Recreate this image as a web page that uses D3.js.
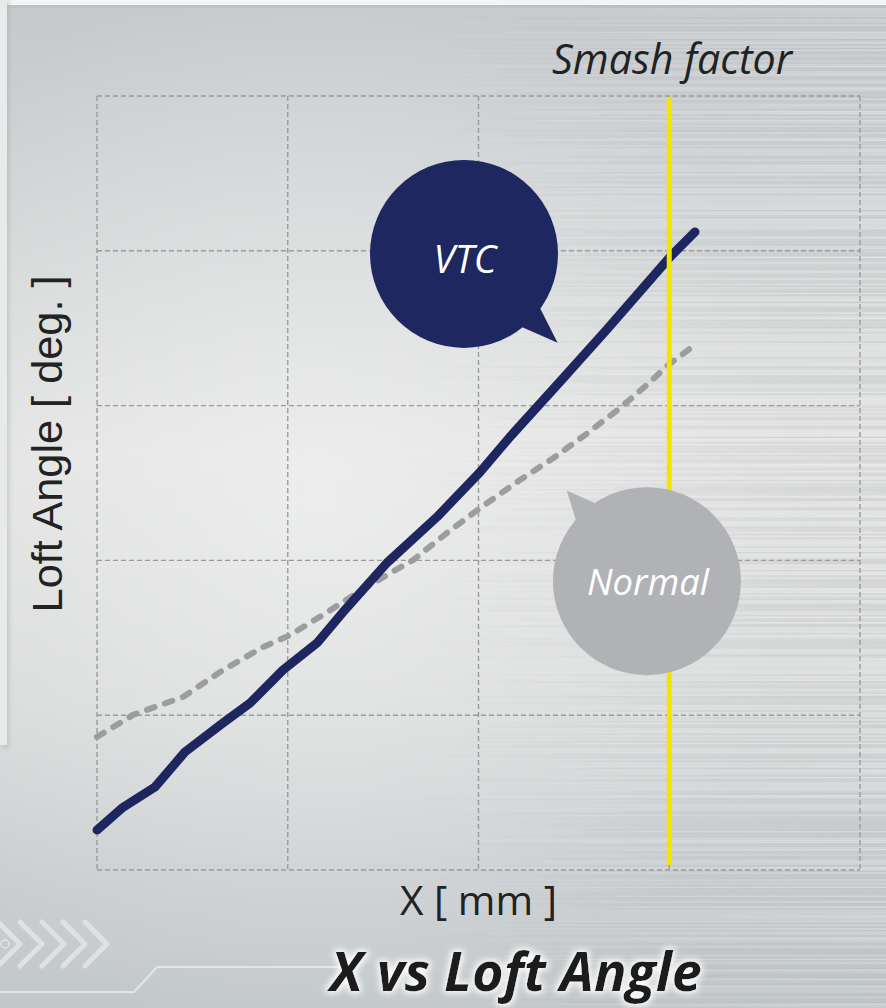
<!DOCTYPE html>
<html><head><meta charset="utf-8">
<script src="https://cdn.jsdelivr.net/npm/d3@7"></script>
<style>html,body{margin:0;padding:0;background:#c8ccce;} svg{display:block}</style>
</head><body><svg id="c" width="886" height="1008"></svg>
<script>
// ---------- data ----------
const xGridTicks = [0, 10, 20, 30, 40];          // X [ mm ] grid positions (no labels shown)
const yGridTicks = [0, 5, 10, 15, 20, 25];       // Loft angle grid positions (no labels shown)
const vtcX = [0, 1.31, 3.04, 4.61, 6.61, 8.02, 9.75, 11.53, 12.90, 15.20, 17.82, 20.08, 21.65, 24.43, 26.74, 30.04, 31.35];
const vtcY = [1.29, 2.00, 2.68, 3.81, 4.75, 5.39, 6.46, 7.33, 8.33, 9.92, 11.40, 12.85, 13.99, 15.88, 17.47, 19.80, 20.61];
const normalX = [0, 1.89, 4.51, 6.61, 8.70, 10.12, 11.85, 13.63, 15.20, 16.57, 18.35, 20.08, 22.18, 23.91, 25.69, 27.42, 28.99, 29.88, 31.19];
const normalY = [4.30, 5.01, 5.59, 6.46, 7.20, 7.59, 8.24, 8.95, 9.53, 10.01, 10.89, 11.69, 12.60, 13.30, 14.10, 14.92, 15.76, 16.28, 16.89];
const smashFactorX = 30;
const seriesNames = ["VTC", "Normal"];
const bubbleX = [19.24, 28.83];   // bubble centres in data units
const bubbleY = [19.9, 9.33];
const tailAngle = [43.5, -131.5];
const smashLabel = "Smash factor";
const xLabel = "X [ mm ]";
const yLabel = "Loft Angle [ deg. ]";
const titleText = "X vs Loft Angle";

// ---------- setup ----------
const W = 886, H = 1008;
const svg = d3.select("#c");
const x = d3.scaleLinear().domain([0, 40]).range([97, 860]);
const y = d3.scaleLinear().domain([0, 25]).range([870, 96]);

const defs = svg.append("defs");
const bg = defs.append("linearGradient").attr("id", "bgv").attr("x1", 0).attr("y1", 0).attr("x2", 0).attr("y2", 1);
[[0, "#c5c9cc"], [0.2, "#d1d4d5"], [0.45, "#e1e2e1"], [0.7, "#d8dada"], [0.88, "#c9cdcf"], [1, "#c2c7ca"]]
  .forEach(([o, c]) => bg.append("stop").attr("offset", o).attr("stop-color", c));
const rg = defs.append("radialGradient").attr("id", "glowbg").attr("cx", 0.36).attr("cy", 0.5).attr("r", 0.55);
rg.append("stop").attr("offset", 0).attr("stop-color", "#fff").attr("stop-opacity", 0.4);
rg.append("stop").attr("offset", 1).attr("stop-color", "#fff").attr("stop-opacity", 0);
const mg = defs.append("linearGradient").attr("id", "fadeR").attr("x1", 0).attr("x2", 1).attr("y1", 0).attr("y2", 0);
mg.append("stop").attr("offset", 0.42).attr("stop-color", "#000");
mg.append("stop").attr("offset", 0.75).attr("stop-color", "#999");
mg.append("stop").attr("offset", 1).attr("stop-color", "#fff");
defs.append("mask").attr("id", "streakMask").append("rect").attr("width", W).attr("height", H).attr("fill", "url(#fadeR)");

const f = defs.append("filter").attr("id", "glow").attr("x", "-10%").attr("y", "-40%").attr("width", "120%").attr("height", "180%");
f.append("feMorphology").attr("in", "SourceAlpha").attr("operator", "dilate").attr("radius", 2).attr("result", "d");
f.append("feGaussianBlur").attr("in", "d").attr("stdDeviation", 3).attr("result", "b");
f.append("feFlood").attr("flood-color", "#ffffff").attr("flood-opacity", 0.95).attr("result", "fl");
f.append("feComposite").attr("in", "fl").attr("in2", "b").attr("operator", "in").attr("result", "g");
const fm = f.append("feMerge");
fm.append("feMergeNode").attr("in", "g");
fm.append("feMergeNode").attr("in", "SourceGraphic");

const sh = defs.append("filter").attr("id", "shadow").attr("x", "-50%").attr("y", "-5%").attr("width", "200%").attr("height", "110%");
sh.append("feGaussianBlur").attr("stdDeviation", 2);

// ---------- background ----------
svg.append("rect").attr("width", W).attr("height", H).attr("fill", "url(#bgv)");
svg.append("rect").attr("width", W).attr("height", H).attr("fill", "url(#glowbg)");
const streaks = svg.append("g").attr("mask", "url(#streakMask)");
const hash = i => { const s = Math.sin(i * 12.9898 + 78.233) * 43758.5453; return s - Math.floor(s); };
for (let i = 0; i < 560; i++) {
  const yy = i * 1.8;
  const h = hash(i), h2 = hash(i + 1000);
  streaks.append("line").attr("x1", 380 + h2 * 260).attr("x2", W).attr("y1", yy).attr("y2", yy)
    .attr("stroke", h > 0.5 ? "#ffffff" : "#a9aeb2").attr("stroke-width", 1.2)
    .attr("stroke-opacity", 0.12 + 0.4 * Math.abs(h - 0.5));
}
// top strip & left panel
svg.append("rect").attr("x", 0).attr("y", 3).attr("width", W).attr("height", 4).attr("fill", "#9aa0a4").attr("opacity", 0.35).attr("filter", "url(#shadow)");
svg.append("rect").attr("x", 0).attr("y", 0).attr("width", W).attr("height", 5).attr("fill", "#f3f4f4");
svg.append("rect").attr("x", 2).attr("y", 0).attr("width", 7).attr("height", 748).attr("fill", "#9aa0a4").attr("opacity", 0.4).attr("filter", "url(#shadow)");
svg.append("rect").attr("x", 0).attr("y", 0).attr("width", 7).attr("height", 745).attr("fill", "#e9eaea");

// decorative chevrons and circuit line
const deco = svg.append("g").attr("fill", "none").attr("stroke", "#e2e5e7").attr("stroke-width", 5).attr("stroke-linecap", "round").attr("stroke-linejoin", "round").attr("opacity", 0.9);
[-2, 20, 42, 63, 85].forEach(cx => deco.append("path").attr("d", `M${cx},922 L${cx + 22},944 L${cx},966`));
svg.append("circle").attr("cx", 5).attr("cy", 944).attr("r", 4).attr("fill", "none").attr("stroke", "#e2e5e7").attr("stroke-width", 1.5);
svg.append("path").attr("d", "M0,992 L134,992 L157,967 L345,967").attr("fill", "none").attr("stroke", "#e3e6e8").attr("stroke-width", 2);

// ---------- grid ----------
const grid = svg.append("g").attr("stroke", "#9a9b9d").attr("stroke-width", 1.4).attr("stroke-dasharray", "5,3").attr("fill", "none");
grid.selectAll(".v").data(xGridTicks).join("line").attr("class", "v")
  .attr("x1", d => x(d)).attr("x2", d => x(d)).attr("y1", y(25)).attr("y2", y(0));
grid.selectAll(".h").data(yGridTicks).join("line").attr("class", "h")
  .attr("y1", d => y(d)).attr("y2", d => y(d)).attr("x1", x(0)).attr("x2", x(40));

// ---------- series ----------
const line = d3.line().x(d => x(d[0])).y(d => y(d[1]));
svg.append("path").datum(normalX.map((v, i) => [v, normalY[i]])).attr("d", line)
  .attr("fill", "none").attr("stroke", "#9c9da0").attr("stroke-width", 6)
  .attr("stroke-dasharray", "8,11").attr("stroke-linecap", "round").attr("stroke-linejoin", "round");
svg.append("path").datum(vtcX.map((v, i) => [v, vtcY[i]])).attr("d", line)
  .attr("fill", "none").attr("stroke", "#1e2660").attr("stroke-width", 9)
  .attr("stroke-linecap", "round").attr("stroke-linejoin", "round");

// smash factor line
svg.append("line").attr("x1", x(smashFactorX)).attr("x2", x(smashFactorX)).attr("y1", y(25) + 1).attr("y2", y(0) - 5)
  .attr("stroke", "#f2e600").attr("stroke-width", 5);

// ---------- helpers ----------
function fit(sel, w) {
  const l = sel.node().getComputedTextLength();
  const fs = parseFloat(sel.attr("font-size"));
  sel.attr("font-size", (fs * w / l).toFixed(2));
}

// ---------- bubbles ----------
const bubbleFill = ["#1e2760", "#b1b2b5"];
const R = 94;
seriesNames.forEach((name, i) => {
  const cx = x(bubbleX[i]), cy = y(bubbleY[i]);
  const a = tailAngle[i] * Math.PI / 180, spread = 8.5 * Math.PI / 180;
  const tipD = i === 0 ? 129 : 121;
  const pts = [
    [cx + (R - 2) * Math.cos(a - spread), cy + (R - 2) * Math.sin(a - spread)],
    [cx + tipD * Math.cos(a), cy + tipD * Math.sin(a)],
    [cx + (R - 2) * Math.cos(a + spread), cy + (R - 2) * Math.sin(a + spread)]
  ];
  const g = svg.append("g");
  g.append("circle").attr("cx", cx).attr("cy", cy).attr("r", R).attr("fill", bubbleFill[i]);
  g.append("polygon").attr("points", pts.map(p => p.join(",")).join(" ")).attr("fill", bubbleFill[i]);
  const t = g.append("text").attr("x", cx + 1).attr("y", cy + (i === 0 ? 19 : 14)).attr("text-anchor", "middle")
    .attr("font-family", "'Open Sans', sans-serif").attr("font-style", "italic").attr("font-size", 34)
    .attr("fill", "#ffffff").text(name);
  fit(t, i === 0 ? 63 : 122);
});

// ---------- texts ----------
const sm = svg.append("text").attr("x", 552).attr("y", 74).attr("font-family", "'Open Sans', sans-serif")
  .attr("font-style", "italic").attr("font-size", 38).attr("fill", "#222").text(smashLabel);
fit(sm, 240);
const xl = svg.append("text").attr("x", 400).attr("y", 915).attr("font-family", "'Open Sans', sans-serif")
  .attr("font-size", 38).attr("fill", "#222").text(xLabel);
fit(xl, 157);
const yl = svg.append("text").attr("transform", "translate(62,444) rotate(-90)").attr("text-anchor", "middle")
  .attr("font-family", "'Liberation Sans', Arial, sans-serif").attr("font-size", 40).attr("fill", "#222").text(yLabel);
fit(yl, 337);
const tt = svg.append("text").attr("x", 330).attr("y", 991).attr("font-family", "'Open Sans', sans-serif")
  .attr("font-style", "italic").attr("font-weight", 700).attr("font-size", 44).attr("fill", "#1c1c1c")
  .attr("filter", "url(#glow)").text(titleText);
fit(tt, 372);
</script></body></html>
